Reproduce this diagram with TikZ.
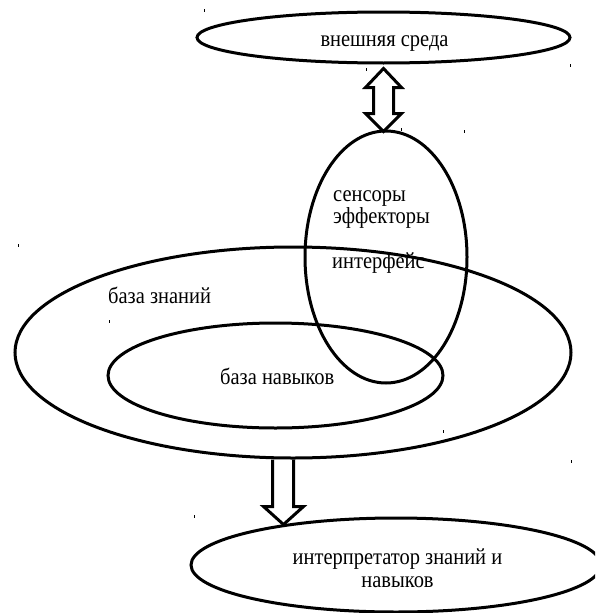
\documentclass[tikz,border=0pt]{standalone}
\usepackage{fontspec}
\setmainfont[FakeStretch=0.89]{Liberation Serif}
\usetikzlibrary{shapes.geometric}
\tikzset{
  oval/.style={draw, ellipse, line width=3pt, inner sep=0pt},
  labeltext/.style={font=\fontsize{23}{23}\selectfont, inner sep=0pt, anchor=base},
  blockarrow/.style={draw, line width=3pt, line join=miter},
  stray/.style={line width=0.8pt}
}
\begin{document}
\begin{tikzpicture}[x=1pt,y=-1pt]
 \clip (0,0) rectangle (595,613);
 % ovals
 \node[oval, minimum width=373pt, minimum height=51pt] (env) at (383.5,37.5) {};
 \node[oval, minimum width=162pt, minimum height=252pt] (iface) at (386,257) {};
 \node[oval, minimum width=556pt, minimum height=211pt] (kbase) at (293,352.5) {};
 \node[oval, minimum width=335pt, minimum height=105pt] (skills) at (275.5,375.5) {};
 \node[oval, minimum width=410pt, minimum height=94pt] (interp) at (396,565) {};
 % texts
 \node[labeltext] (envtext) at (384.5,46.5) {внешняя среда};
 \node[labeltext, anchor=base west] (sens) at (333,201.5) {сенсоры};
 \node[labeltext, anchor=base west] (eff) at (333,223) {эффекторы};
 \node[labeltext, anchor=base west] (ifacetext) at (332,268) {интерфейс};
 \node[labeltext, anchor=base west] (kbasetext) at (108,303) {база знаний};
 \node[labeltext, anchor=base west] (skillstext) at (220,384) {база навыков};
 \node[labeltext] (interptext) at (397.5,564) {интерпретатор знаний и};
 \node[labeltext] (interptext2) at (397.5,587) {навыков};
 % arrows
 \draw[blockarrow] ([yshift=-4pt]env.south) --++(18,19)--++(-8,0)--++(0,26)--++(8,0)
   --++(-18,18)--++(-18,-18)--++(8,0)--++(0,-26)--++(-8,0)--cycle;
 \draw[blockarrow] (kbase.south) ++(-20.5,0) --++(0,47)--++(-9,0)--++(20,18)--++(20,-18)--++(-10,0)--++(0,-47);
 % stray marks
 \foreach \x/\y in {204/9,570/64,366/68,401/128,464/130,18/244,109/320,443/430,571/460,194/515}
   \draw[stray] (\x,\y)--++(0,3);
\end{tikzpicture}
\end{document}
